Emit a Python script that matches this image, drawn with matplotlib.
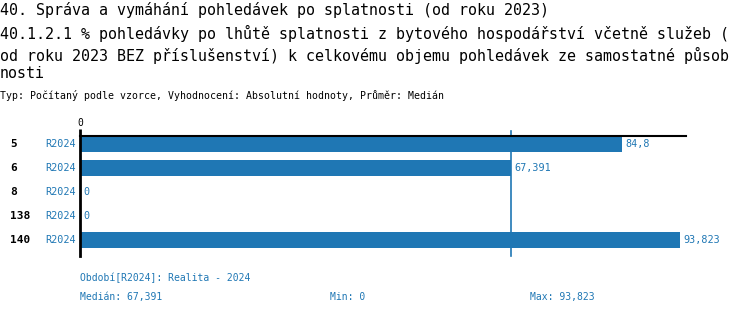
import numpy as np
import matplotlib
matplotlib.use('Agg')
import matplotlib.pyplot as plt

# data
categories = ['5', '6', '8', '138', '140']
period = 'R2024'
values = [84.8, 67.391, 0, 0, 93.823]
value_labels = ['84,8', '67,391', '0', '0', '93,823']
median_val = 67.391
median_label = '67,391'
min_label = '0'
max_label = '93,823'

title_lines = [
    '40. Správa a vymáhání pohledávek po splatnosti (od roku 2023)',
    '40.1.2.1 % pohledávky po lhůtě splatnosti z bytového hospodářství včetně služeb (',
    'od roku 2023 BEZ příslušenství) k celkovému objemu pohledávek ze samostatné působ',
    'nosti',
]
subtitle = 'Typ: Počítaný podle vzorce, Vyhodnocení: Absolutní hodnoty, Průměr: Medián'
period_note = 'Období[R2024]: Realita - 2024'

W, H = 750, 316
blue = '#1f77b4'
mono = 'DejaVu Sans Mono'

fig = plt.figure(figsize=(W / 100, H / 100), dpi=100)


def fx(px):
    return px / W


def fy(py):
    return 1 - py / H


# titles
for line, y in zip(title_lines, [10, 33, 55, 74]):
    fig.text(fx(0), fy(y), line, family=mono, fontsize=10.8, va='center', ha='left')
fig.text(fx(0), fy(95), subtitle, family=mono, fontsize=7.15, va='center', ha='left')

# axes: x 80..686 px, y 136..256 px
ax = fig.add_axes([fx(80), fy(256), fx(686) - fx(80), fy(136) - fy(256)])
y = np.arange(len(categories))
ax.barh(y, values, height=0.63, color=blue, left=0)
ax.set_ylim(len(categories) - 1 + 16 / 24, -8 / 24)
ax.set_xlim(0, max(values) * 1.0105)

for s in ['right', 'bottom']:
    ax.spines[s].set_visible(False)
ax.spines['left'].set_linewidth(2)
ax.spines['top'].set_linewidth(1.5)
ax.xaxis.tick_top()
ax.set_xticks([0])
ax.set_xticklabels(['0'], family=mono, fontsize=7)
ax.tick_params(axis='x', length=5, width=2, pad=1)
ax.set_yticks([])

# median line
ax.axvline(median_val, ymin=0, ymax=1 + 5 / 120, color=blue, lw=1.2, clip_on=False)

for yi, (cat, v, lab) in enumerate(zip(categories, values, value_labels)):
    ax.text(v + 0.6, yi, lab, color=blue, family=mono, fontsize=7.3, va='center', ha='left')
    ax.annotate(period, xy=(0, yi), xytext=(-3, 0), textcoords='offset points',
                color=blue, family=mono, fontsize=7.3, va='center', ha='right')
    ax.annotate(cat, xy=(0, yi), xycoords=('figure fraction', 'data'),
                xytext=(fx(10), yi), textcoords=('figure fraction', 'data'),
                family=mono, fontsize=8, fontweight='bold', va='center', ha='left')

# footer
fig.text(fx(80), fy(278), period_note, color=blue, family=mono, fontsize=7, va='center')
fig.text(fx(80), fy(297), 'Medián: ' + median_label, color=blue, family=mono, fontsize=7, va='center')
fig.text(fx(330), fy(297), 'Min: ' + min_label, color=blue, family=mono, fontsize=7, va='center')
fig.text(fx(530), fy(297), 'Max: ' + max_label, color=blue, family=mono, fontsize=7, va='center')

fig.savefig('out.png', dpi=100)
